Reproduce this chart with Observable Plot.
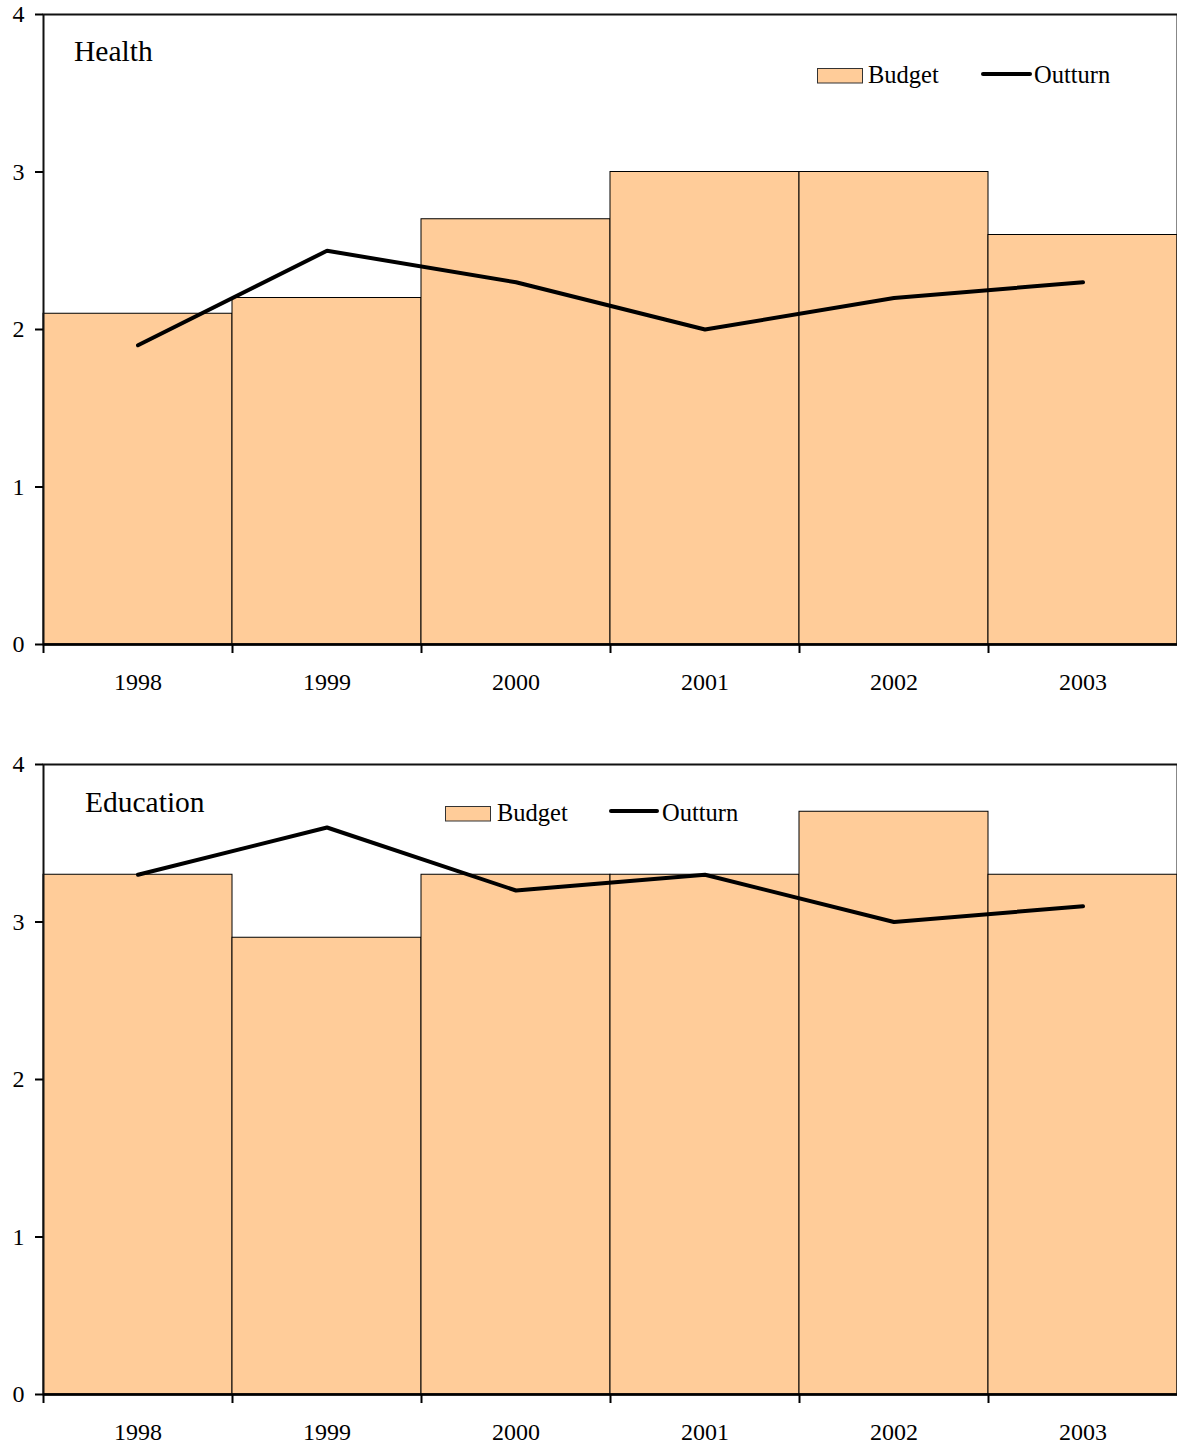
<!DOCTYPE html>
<html>
<head>
<meta charset="utf-8">
<script src="https://cdn.jsdelivr.net/npm/d3@7"></script>
<script src="https://cdn.jsdelivr.net/npm/@observablehq/plot@0.6"></script>
<style>
  html, body { margin: 0; padding: 0; background: white; }
  #wrap { position: relative; width: 1177px; height: 1448px; overflow: hidden; font-family: 'Liberation Serif', 'Times New Roman', serif; }
  #p1 { top: 0; } #p2 { top: 750px; }
  #p1, #p2 { position: absolute; left: 0; }
  #overlay { position: absolute; left: 0; top: 0; pointer-events: none; }
</style>
</head>
<body>
<div id="wrap">
  <div id="p1"></div>
  <div id="p2"></div>
  <svg id="overlay" width="1177" height="1448" font-family="'Liberation Serif', 'Times New Roman', serif">
    <text x="74" y="61" font-size="29.5">Health</text>
    <rect x="817.5" y="68.5" width="45" height="14.5" fill="#FFCC99" stroke="#333" stroke-width="1"></rect>
    <text x="868" y="83" font-size="24.5">Budget</text>
    <line x1="983" x2="1030" y1="74" y2="74" stroke="black" stroke-width="4" stroke-linecap="round"></line>
    <text x="1034" y="83" font-size="24.5">Outturn</text>

    <text x="85" y="812" font-size="29.5">Education</text>
    <rect x="445.5" y="806.5" width="45" height="14.5" fill="#FFCC99" stroke="#333" stroke-width="1"></rect>
    <text x="497" y="821" font-size="24.5">Budget</text>
    <line x1="611" x2="657" y1="811" y2="811" stroke="black" stroke-width="4" stroke-linecap="round"></line>
    <text x="662" y="821" font-size="24.5">Outturn</text>
  </svg>
</div>
<script>
const years = ["1998", "1999", "2000", "2001", "2002", "2003"];
const healthBudget = [2.1, 2.2, 2.7, 3.0, 3.0, 2.6];
const healthOutturn = [1.9, 2.5, 2.3, 2.0, 2.2, 2.3];
const educationBudget = [3.3, 2.9, 3.3, 3.3, 3.7, 3.3];
const educationOutturn = [3.3, 3.6, 3.2, 3.3, 3.0, 3.1];
const yTicks = [0, 1, 2, 3, 4];
const serif = "'Liberation Serif', 'Times New Roman', serif";

function panel(budget, outturn, height, marginBottom) {
  const data = years.map((y, i) => ({year: y, budget: budget[i], outturn: outturn[i]}));
  const width = 1177, marginLeft = 43, marginRight = 0;
  const half = (width - marginLeft - marginRight) / years.length / 2;
  return Plot.plot({
    width, height, marginTop: 14, marginLeft, marginRight, marginBottom,
    style: {fontFamily: serif, fontSize: "24px", color: "black", background: "white", overflow: "visible"},
    x: {type: "band", domain: years, padding: 0, label: null},
    y: {domain: [0, 4], label: null},
    marks: [
      Plot.barY(data, {x: "year", y: "budget", fill: "#FFCC99", stroke: "black", strokeWidth: 1}),
      Plot.frame({stroke: "#111", strokeWidth: 2}),
      Plot.ruleY([0], {stroke: "black", strokeWidth: 2.4}),
      Plot.line(data, {x: "year", y: "outturn", stroke: "black", strokeWidth: 4, strokeLinejoin: "miter"}),
      Plot.axisY({ticks: yTicks, tickSize: 8, tickPadding: 11, tickFormat: d => d, strokeWidth: 2, fontSize: 24, fontFamily: serif}),
      Plot.axisX({tickSize: 0, tickPadding: 28, fontSize: 24, fontFamily: serif}),
      Plot.axisX({tickSize: 9, tickFormat: () => "", dx: -half, strokeWidth: 2})
    ]
  });
}

document.getElementById("p1").appendChild(panel(healthBudget, healthOutturn, 730, 86));
document.getElementById("p2").appendChild(panel(educationBudget, educationOutturn, 698, 54));
</script>
</body>
</html>
